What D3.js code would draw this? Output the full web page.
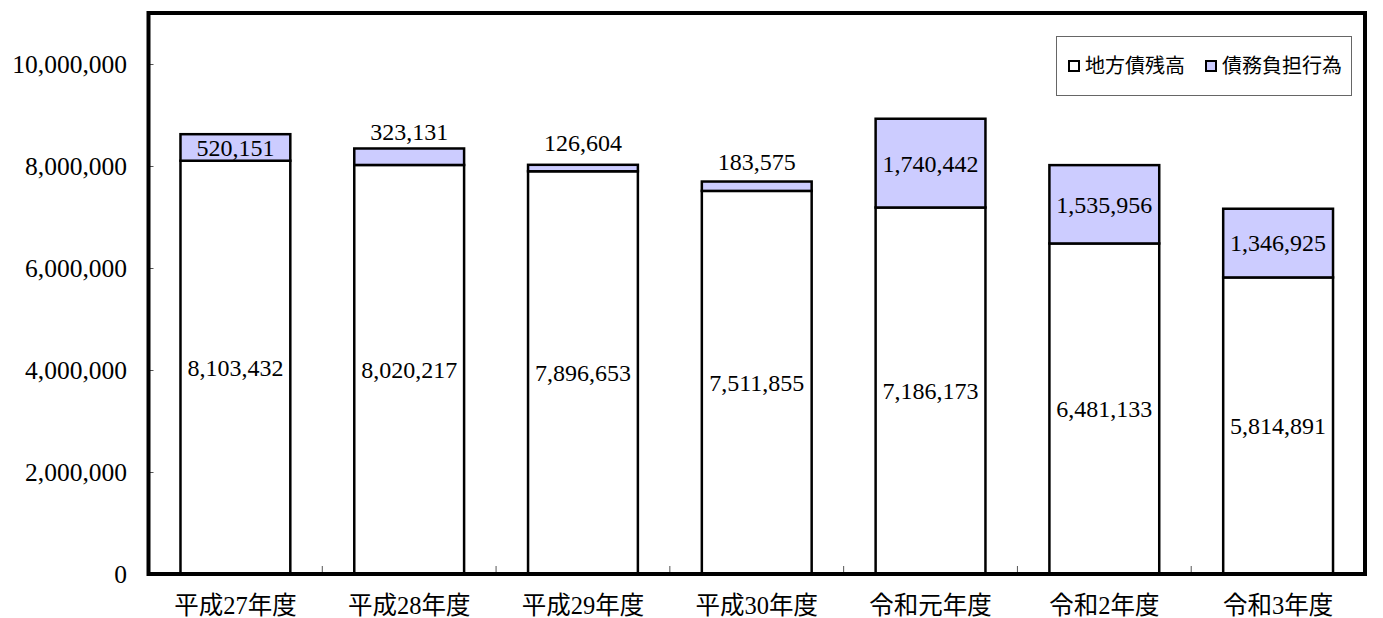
<!DOCTYPE html>
<html lang="ja">
<head>
<meta charset="utf-8">
<script src="https://cdn.jsdelivr.net/npm/d3@7"></script>
<style>
  html, body { margin: 0; padding: 0; background: #fff; }
  svg { display: block; }
  .num { font-family: "Liberation Serif", "Noto Sans CJK JP", serif; }
  .cjk { font-family: "Liberation Serif", "Noto Sans CJK JP", serif; }
  .leg { font-family: "Noto Sans CJK JP", sans-serif; }
</style>
</head>
<body>
<svg id="chart" width="1383" height="618"></svg>
<script>
// Fiscal years
const categories = ["平成27年度", "平成28年度", "平成29年度", "平成30年度", "令和元年度", "令和2年度", "令和3年度"];
// 地方債残高 (outstanding local bonds)
const bondBalance = [8103432, 8020217, 7896653, 7511855, 7186173, 6481133, 5814891];
// 債務負担行為 (debt burden acts)
const debtBurden = [520151, 323131, 126604, 183575, 1740442, 1535956, 1346925];
// Y axis ticks
const yTicks = [0, 2000000, 4000000, 6000000, 8000000, 10000000];
const yMax = 11000000;
const seriesNames = ["地方債残高", "債務負担行為"];
const seriesFill = ["#ffffff", "#ccccff"];

const svg = d3.select("#chart");
const plot = { left: 148.5, top: 13, right: 1365, bottom: 574 };

const x = d3.scaleBand().domain(categories).range([plot.left, plot.right]).paddingInner(0.368).paddingOuter(0.184);
const y = d3.scaleLinear().domain([0, yMax]).range([plot.bottom, plot.top]);
const fmt = d3.format(",");

// Stacked data
const rows = categories.map((c, i) => ({ cat: c, a: bondBalance[i], b: debtBurden[i] }));
const stack = d3.stack().keys(["a", "b"])(rows);

// Y tick marks (inside) and labels
const yAxis = d3.axisRight(y).tickValues(yTicks).tickSize(5).tickFormat("");
svg.append("g").attr("transform", `translate(${plot.left},0)`).call(yAxis)
  .call(g => g.select(".domain").remove())
  .call(g => g.selectAll("line").attr("stroke", "#555").attr("stroke-width", 1));
svg.append("g").selectAll("text").data(yTicks).join("text")
  .attr("class", "num")
  .attr("x", 127).attr("y", d => y(d)).attr("dy", "0.35em")
  .attr("text-anchor", "end").attr("font-size", 25.5).attr("fill", "#000")
  .text(d => fmt(d));

// X tick marks between categories
const step = x.step();
const bounds = d3.range(1, categories.length).map(i => plot.left + i * step);
svg.append("g").selectAll("line").data(bounds).join("line")
  .attr("x1", d => d).attr("x2", d => d)
  .attr("y1", plot.bottom).attr("y2", plot.bottom - 8)
  .attr("stroke", "#555").attr("stroke-width", 1);

// Bars
stack.forEach((layer, li) => {
  svg.append("g").selectAll("rect").data(layer).join("rect")
    .attr("x", d => x(d.data.cat))
    .attr("width", x.bandwidth())
    .attr("y", d => y(d[1]))
    .attr("height", d => y(d[0]) - y(d[1]))
    .attr("fill", seriesFill[li])
    .attr("stroke", "#000").attr("stroke-width", 2.5);
});

// Value labels
svg.append("g").selectAll("text").data(stack[0]).join("text")
  .attr("class", "num")
  .attr("x", d => x(d.data.cat) + x.bandwidth() / 2)
  .attr("y", d => (y(d[0]) + y(d[1])) / 2).attr("dy", "0.35em")
  .attr("text-anchor", "middle").attr("font-size", 24)
  .text(d => fmt(d[1] - d[0]));
// Thin segments get their label lifted above the bar
svg.append("g").selectAll("text").data(stack[1]).join("text")
  .attr("class", "num")
  .attr("x", d => x(d.data.cat) + x.bandwidth() / 2)
  .attr("y", d => {
    const h = y(d[0]) - y(d[1]);
    const mid = (y(d[0]) + y(d[1])) / 2;
    return h < 24 ? mid - 25 : mid;
  })
  .attr("dy", "0.35em")
  .attr("text-anchor", "middle").attr("font-size", 24)
  .text(d => fmt(d[1] - d[0]));

// Category labels
svg.append("g").selectAll("text").data(categories).join("text")
  .attr("class", "cjk")
  .attr("x", d => x(d) + x.bandwidth() / 2)
  .attr("y", 614)
  .attr("text-anchor", "middle").attr("font-size", 24.5)
  .text(d => d);

// Frame
svg.append("rect")
  .attr("x", plot.left).attr("y", plot.top)
  .attr("width", plot.right - plot.left).attr("height", plot.bottom - plot.top)
  .attr("fill", "none").attr("stroke", "#000").attr("stroke-width", 4);

// Legend
const leg = svg.append("g");
leg.append("rect").attr("x", 1056.5).attr("y", 36.5).attr("width", 295).attr("height", 59)
  .attr("fill", "#fff").attr("stroke", "#666").attr("stroke-width", 1);
const legX = [1069, 1206];
seriesNames.forEach((n, i) => {
  leg.append("rect").attr("x", legX[i]).attr("y", 61).attr("width", 10).attr("height", 10)
    .attr("fill", seriesFill[i]).attr("stroke", "#000").attr("stroke-width", 2);
  leg.append("text").attr("class", "leg")
    .attr("x", legX[i] + 16).attr("y", 66).attr("dy", "0.36em")
    .attr("font-size", 20).text(n);
});
</script>
</body>
</html>
